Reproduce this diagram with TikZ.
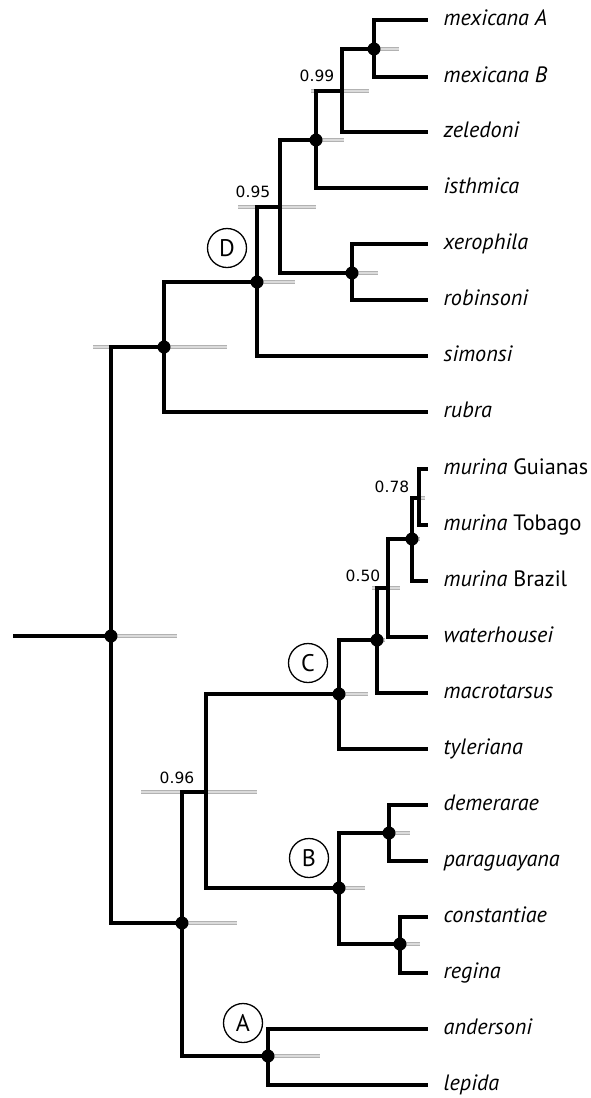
\documentclass[tikz,border=0pt]{standalone}
\usepackage{fontspec}
\setmainfont{PT Sans}
\newfontfamily\numfont{DejaVu Sans}
\usepackage{tikz}
\usetikzlibrary{positioning}

\begin{document}
\begin{tikzpicture}[x=1pt, y=-1pt,
    branch/.style={line width=3.3pt, draw=black},
    hpd/.style={line width=0.6pt, draw=gray!60, double=gray!28, double distance=2.8pt},
    dot/.style={circle, fill=black, inner sep=0pt, minimum size=13pt},
    taxon/.style={anchor=base west, inner sep=0pt, xshift=15.5pt, yshift=-5pt,
        font=\fontsize{22.2}{22.2}\selectfont\itshape},
    support/.style={inner sep=0pt, font=\numfont\fontsize{15.5}{15.5}\selectfont},
    clade/.style={circle, draw=black, line width=1.3pt, minimum size=39pt, inner sep=0pt,
        font=\fontsize{24}{24}\selectfont}]
    \useasboundingbox (0,0) rectangle (590,1098);

    % tips
    \foreach \nm/\yy/\txt in {mexA/20/{mexicana A}, mexB/77/{mexicana B}, zele/132/zeledoni,
        isth/188/isthmica, xero/244/xerophila, robi/300/robinsoni, simo/356/simonsi,
        rubr/412/rubra, murG/469/{murina \textup{Guianas}}, murT/525/{murina \textup{Tobago}},
        murB/581/{murina \textup{Brazil}}, wate/637/waterhousei, macr/693/macrotarsus,
        tyle/749/tyleriana, deme/805/demerarae, para/861/paraguayana, cons/917/constantiae,
        regi/973/regina, ande/1029/andersoni, lepi/1085/lepida}
    {
        \coordinate (\nm) at (428,\yy);
        \node[taxon] (lab\nm) at (\nm) {\txt};
    }

    % internal nodes
    \coordinate (stem) at (13,636);
    \coordinate (nRoot) at (111,636);
    \coordinate (nTop) at (164,347);
    \coordinate (nD) at (257,282);
    \coordinate (nX) at (280,207);
    \coordinate (nIsth) at (316,140);
    \coordinate (nZel) at (342,91);
    \coordinate (nMex) at (374,49);
    \coordinate (nXero) at (352,273);
    \coordinate (nBCA) at (182,923);
    \coordinate (nBC) at (206,792);
    \coordinate (nC) at (339,694);
    \coordinate (nWat) at (377,640);
    \coordinate (nW) at (388,588);
    \coordinate (nMur) at (412,539);
    \coordinate (nMurGT) at (419,498);
    \coordinate (nB) at (339,888);
    \coordinate (nDem) at (389,833);
    \coordinate (nCon) at (400,944);
    \coordinate (nA) at (268,1056);

    % age intervals
    \foreach \n/\l/\r in {nRoot/0/66, nTop/-71/63, nD/0/38, nX/-42/36, nIsth/0/28, nZel/-31/27,
        nMex/0/25, nXero/0/26, nBCA/0/55, nBC/-65/51, nC/0/29, nWat/0/8, nW/-16/12,
        nMur/0/8, nMurGT/-9/6, nB/0/26, nDem/0/21, nCon/0/20, nA/0/52}
        \draw[hpd] ([xshift=\l]\n) -- ([xshift=\r]\n);

    % branches
    \draw[branch] (stem) -- (nRoot);
    \foreach \p/\c in {nRoot/nTop, nRoot/nBCA, nTop/nD, nTop/rubr, nD/nX, nD/simo,
        nX/nIsth, nX/nXero, nIsth/nZel, nIsth/isth, nZel/nMex, nZel/zele, nMex/mexA, nMex/mexB,
        nXero/xero, nXero/robi, nBCA/nBC, nBCA/nA, nBC/nC, nBC/nB, nC/nWat, nC/tyle,
        nWat/nW, nWat/macr, nW/nMur, nW/wate, nMur/nMurGT, nMur/murB, nMurGT/murG, nMurGT/murT,
        nB/nDem, nB/nCon, nDem/deme, nDem/para, nCon/cons, nCon/regi, nA/ande, nA/lepi}
        \draw[branch] (\p) |- (\c);

    % supported nodes
    \foreach \n in {nRoot, nTop, nD, nIsth, nMex, nXero, nBCA, nC, nWat, nMur, nB, nDem, nCon, nA}
        \node[dot] (dot\n) at (\n) {};

    % posterior values
    \node[support] (pp99) at (317,76) {0.99};
    \node[support] (pp95) at (253,192) {0.95};
    \node[support] (pp78) at (392,487) {0.78};
    \node[support] (pp50) at (363,576) {0.50};
    \node[support] (pp96) at (177,778) {0.96};

    % clade labels
    \node[clade] (cladeD) at (227,248) {D};
    \node[clade] (cladeC) at (308,663) {C};
    \node[clade] (cladeB) at (309,858) {B};
    \node[clade] (cladeA) at (243,1023) {A};
\end{tikzpicture}
\end{document}
